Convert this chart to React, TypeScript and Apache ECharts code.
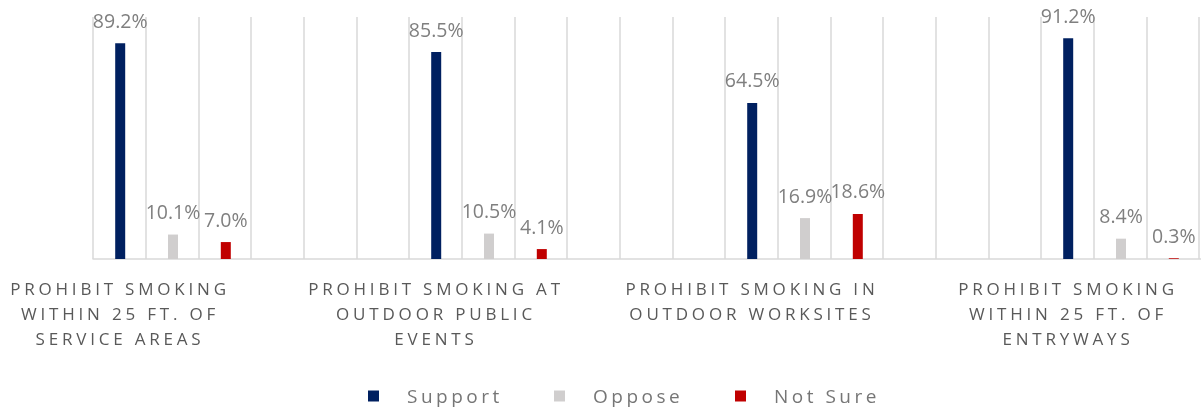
import React, { useEffect, useRef } from "react";
import * as echarts from "echarts";

const categories = [
  "PROHIBIT SMOKING\nWITHIN 25 FT. OF\nSERVICE AREAS",
  "PROHIBIT SMOKING AT\nOUTDOOR PUBLIC\nEVENTS",
  "PROHIBIT SMOKING IN\nOUTDOOR WORKSITES",
  "PROHIBIT SMOKING\nWITHIN 25 FT. OF\nENTRYWAYS",
];
const seriesNames = ["Support", "Oppose", "Not Sure"];
const support = [89.2, 85.5, 64.5, 91.2];
const oppose = [10.1, 10.5, 16.9, 8.4];
const notSure = [7.0, 4.1, 18.6, 0.3];
const seriesValues = [support, oppose, notSure];
const colors = ["#002060", "#d0cece", "#c00000"];
const legendLeft = [368, 554, 735];

export default function App() {
  const ref = useRef<HTMLDivElement>(null);
  useEffect(() => {
    if (!ref.current) return;
    const chart = echarts.init(ref.current, undefined, { renderer: "svg" });
    const font = "Open Sans";
    chart.setOption({
      animation: false,
      grid: [
        { left: 15, top: 17, width: 1264, height: 242, outerBoundsMode: "none", containLabel: false },
        { left: 93, top: 17, width: 1264, height: 242, outerBoundsMode: "none", containLabel: false },
      ],
      xAxis: [
        {
          type: "category",
          gridIndex: 0,
          data: categories,
          axisLine: { show: false },
          axisTick: { show: false },
          splitLine: { show: false },
          axisLabel: {
            interval: 0,
            color: "#595959",
            fontFamily: font,
            fontSize: 17,
            lineHeight: 25,
            margin: 17,
            padding: [0, 106, 0, 0],
          },
        },
        {
          type: "value",
          gridIndex: 1,
          min: 0,
          max: 24,
          interval: 1,
          axisLine: { show: true, lineStyle: { color: "#d9d9d9", width: 1.5 } },
          axisTick: { show: false },
          axisLabel: { show: false },
          splitLine: { show: true, lineStyle: { color: "#d9d9d9", width: 1.5 } },
        },
      ],
      yAxis: [
        { type: "value", gridIndex: 0, min: 0, max: 100, show: false },
        { type: "value", gridIndex: 1, min: 0, max: 100, show: false },
      ],
      legend: seriesNames.map((n, i) => ({
        data: [n],
        left: legendLeft[i],
        top: 386,
        padding: 0,
        icon: "rect",
        itemWidth: 11,
        itemHeight: 11,
        selectedMode: false,
        textStyle: {
          color: "#767676",
          fontSize: 19,
          lineHeight: 20,
          fontFamily: font,
          padding: [0, 30, 0, 23],
        },
      })),
      series: seriesNames.map((n, i) => ({
        name: n,
        type: "bar",
        xAxisIndex: 0,
        yAxisIndex: 0,
        data: seriesValues[i],
        barWidth: 10,
        barGap: "428%",
        itemStyle: { color: colors[i] },
        label: {
          show: true,
          position: "top",
          distance: 13,
          color: "#7f7f7f",
          fontSize: 19.5,
          lineHeight: 20,
          fontFamily: font,
          formatter: (p: any) => Number(p.value).toFixed(1) + "%",
        },
      })),
    });
    return () => chart.dispose();
  }, []);
  return (
    <>
      <style>{`
        #root text[fill="#595959"] { letter-spacing: 3.8px; }
        #root text[fill="#767676"] { letter-spacing: 3.5px; }
      `}</style>
      <div
        ref={ref}
        style={{ position: "fixed", left: 0, top: 0, width: 1201, height: 411 }}
      />
    </>
  );
}
